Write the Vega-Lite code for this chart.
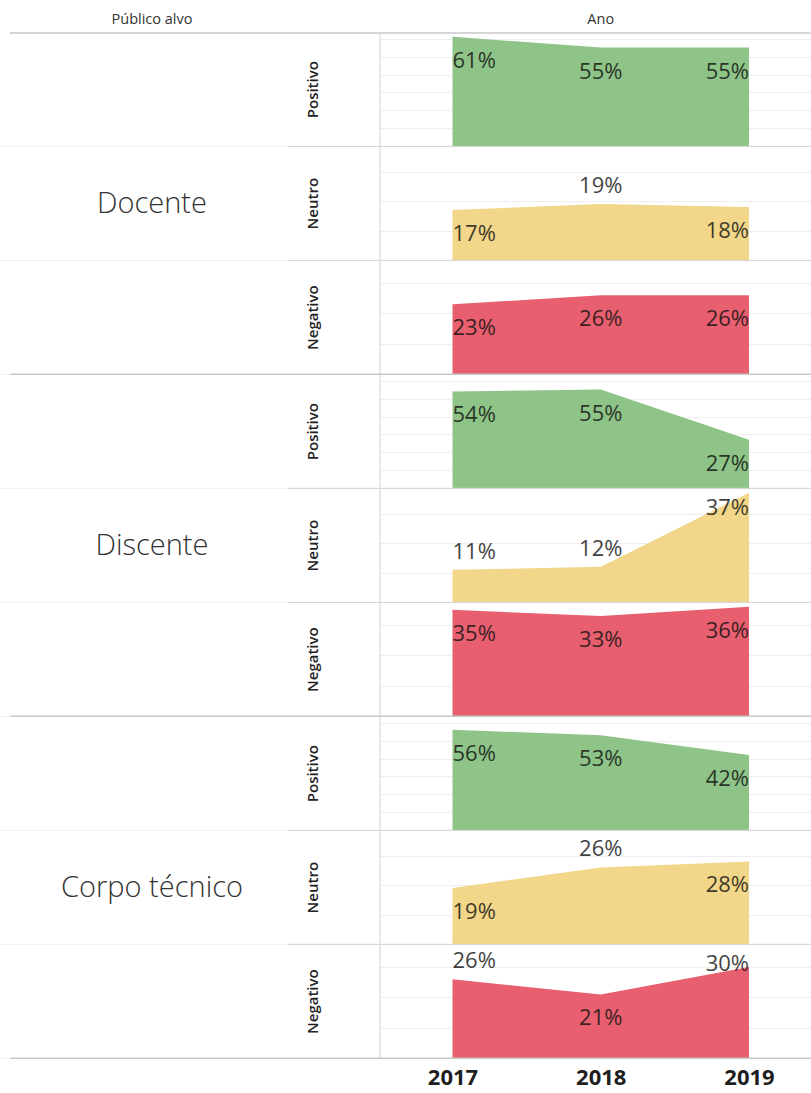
{
  "$schema": "https://vega.github.io/schema/vega-lite/v6.json",
  "padding": {"top": 12, "left": 0, "right": 0, "bottom": 34},
  "background": "white",
  "bounds": "flush",
  "data": {
    "values": [
      {"grupo": "Docente", "sentimento": "Positivo", "ano": 2017, "valor": 0.61},
      {"grupo": "Docente", "sentimento": "Positivo", "ano": 2018, "valor": 0.55},
      {"grupo": "Docente", "sentimento": "Positivo", "ano": 2019, "valor": 0.55},
      {"grupo": "Docente", "sentimento": "Neutro", "ano": 2017, "valor": 0.17},
      {"grupo": "Docente", "sentimento": "Neutro", "ano": 2018, "valor": 0.19},
      {"grupo": "Docente", "sentimento": "Neutro", "ano": 2019, "valor": 0.18},
      {"grupo": "Docente", "sentimento": "Negativo", "ano": 2017, "valor": 0.23},
      {"grupo": "Docente", "sentimento": "Negativo", "ano": 2018, "valor": 0.26},
      {"grupo": "Docente", "sentimento": "Negativo", "ano": 2019, "valor": 0.26},
      {"grupo": "Discente", "sentimento": "Positivo", "ano": 2017, "valor": 0.54},
      {"grupo": "Discente", "sentimento": "Positivo", "ano": 2018, "valor": 0.55},
      {"grupo": "Discente", "sentimento": "Positivo", "ano": 2019, "valor": 0.27},
      {"grupo": "Discente", "sentimento": "Neutro", "ano": 2017, "valor": 0.11},
      {"grupo": "Discente", "sentimento": "Neutro", "ano": 2018, "valor": 0.12},
      {"grupo": "Discente", "sentimento": "Neutro", "ano": 2019, "valor": 0.37},
      {"grupo": "Discente", "sentimento": "Negativo", "ano": 2017, "valor": 0.35},
      {"grupo": "Discente", "sentimento": "Negativo", "ano": 2018, "valor": 0.33},
      {"grupo": "Discente", "sentimento": "Negativo", "ano": 2019, "valor": 0.36},
      {"grupo": "Corpo técnico", "sentimento": "Positivo", "ano": 2017, "valor": 0.56},
      {"grupo": "Corpo técnico", "sentimento": "Positivo", "ano": 2018, "valor": 0.53},
      {"grupo": "Corpo técnico", "sentimento": "Positivo", "ano": 2019, "valor": 0.42},
      {"grupo": "Corpo técnico", "sentimento": "Neutro", "ano": 2017, "valor": 0.19},
      {"grupo": "Corpo técnico", "sentimento": "Neutro", "ano": 2018, "valor": 0.26},
      {"grupo": "Corpo técnico", "sentimento": "Neutro", "ano": 2019, "valor": 0.28},
      {"grupo": "Corpo técnico", "sentimento": "Negativo", "ano": 2017, "valor": 0.26},
      {"grupo": "Corpo técnico", "sentimento": "Negativo", "ano": 2018, "valor": 0.21},
      {"grupo": "Corpo técnico", "sentimento": "Negativo", "ano": 2019, "valor": 0.30}
    ]
  },
  "transform": [
    {"joinaggregate": [{"op": "max", "field": "valor", "as": "maxSent"}], "groupby": ["sentimento"]},
    {"calculate": "datum.maxSent * 1.035", "as": "teto"},
    {"calculate": "datum.grupo + '|' + datum.sentimento", "as": "chave"},
    {"calculate": "(datum.sentimento == 'Neutro' && ((datum.ano == 2018 && datum.grupo != 'Discente') || (datum.grupo == 'Discente' && datum.ano < 2019))) || (datum.grupo == 'Corpo técnico' && datum.sentimento == 'Negativo' && datum.ano == 2017) ? 'acima' : (datum.grupo == 'Discente' && datum.sentimento == 'Neutro' && datum.ano == 2019) ? 'topo' : (datum.grupo == 'Corpo técnico' && datum.sentimento == 'Negativo' && datum.ano == 2019) ? 'linha' : 'abaixo'", "as": "pos"}
  ],
  "spacing": {"row": 0},
  "facet": {
    "row": {
      "field": "chave",
      "type": "nominal",
      "title": null,
      "header": {"labels": false},
      "sort": ["Docente|Positivo", "Docente|Neutro", "Docente|Negativo", "Discente|Positivo", "Discente|Neutro", "Discente|Negativo", "Corpo técnico|Positivo", "Corpo técnico|Neutro", "Corpo técnico|Negativo"]
    }
  },
  "resolve": {"scale": {"y": "independent"}, "axis": {"y": "independent"}},
  "spec": {
    "width": 811,
    "height": 113.33,
    "layer": [
      {
        "mark": {"type": "area", "opacity": 1},
        "encoding": {
          "x": {
            "field": "ano",
            "type": "quantitative",
            "scale": {"domain": [2013.9477, 2019.4182], "nice": false, "zero": false},
            "axis": {"values": [2017, 2018, 2019], "format": "d", "labelFontSize": 22, "labelFontWeight": "bold", "labelFont": "Open Sans", "labelColor": "#1e1e1e", "domain": false, "ticks": false, "grid": false, "title": null, "labelPadding": 8}
          },
          "y": {"field": "valor", "type": "quantitative", "stack": null, "scale": {"zero": true, "nice": false}, "axis": {"labels": false, "ticks": false, "domain": false, "title": null, "grid": true, "gridColor": "#eeeeee", "tickCount": 5}},
          "color": {
            "field": "sentimento",
            "type": "nominal",
            "scale": {"domain": ["Positivo", "Neutro", "Negativo"], "range": ["#8ec487", "#f2d78a", "#e8606f"]},
            "legend": null
          }
        }
      },
      {
        "mark": {"type": "point", "opacity": 0},
        "encoding": {
          "x": {"field": "ano", "type": "quantitative"},
          "y": {"field": "teto", "type": "quantitative"}
        }
      },
      {
        "transform": [{"filter": "datum.ano == 2017"}],
        "mark": {"type": "rect", "color": "white"},
        "encoding": {
          "x": {"datum": 2013.9477, "type": "quantitative"},
          "x2": {"datum": 2016.511}
        }
      },
      {
        "mark": {
          "type": "text",
          "baseline": "middle",
          "font": "Open Sans",
          "fontSize": 22,
          "color": "#111111",
          "opacity": 0.8,
          "align": {"expr": "datum.ano == 2017 ? 'left' : datum.ano == 2019 ? 'right' : 'center'"},
          "dy": {"expr": "datum.pos == 'acima' ? -18 : datum.pos == 'topo' ? 15 : datum.pos == 'linha' ? -3 : 24"}
        },
        "encoding": {
          "x": {"field": "ano", "type": "quantitative"},
          "y": {"field": "valor", "type": "quantitative"},
          "text": {"field": "valor", "type": "quantitative", "format": ".0%"}
        }
      },
      {
        "transform": [{"filter": "datum.ano == 2017"}],
        "mark": {"type": "rule", "color": "#d0d0d0", "strokeWidth": 1},
        "encoding": {"x": {"datum": 2016.511, "type": "quantitative"}}
      },
      {
        "transform": [{"filter": "datum.ano == 2017 && datum.sentimento != 'Negativo'"}],
        "mark": {"type": "rule", "color": "#d3d3d3", "strokeWidth": 1},
        "encoding": {
          "x": {"datum": 2015.8904, "type": "quantitative"},
          "x2": {"datum": 2019.4182},
          "y": {"datum": 0, "type": "quantitative"}
        }
      },
      {
        "transform": [{"filter": "datum.ano == 2017 && datum.sentimento == 'Negativo'"}],
        "mark": {"type": "rule", "color": "#c8c8c8", "strokeWidth": 1.5},
        "encoding": {
          "x": {"datum": 2014.0152, "type": "quantitative"},
          "x2": {"datum": 2019.4182},
          "y": {"datum": 0, "type": "quantitative"}
        }
      },
      {
        "transform": [{"filter": "datum.ano == 2017 && datum.chave == 'Docente|Positivo'"}],
        "mark": {"type": "rule", "color": "#c8c8c8", "strokeWidth": 1.5},
        "encoding": {
          "x": {"datum": 2014.0152, "type": "quantitative"},
          "x2": {"datum": 2019.4182},
          "y": {"field": "teto", "type": "quantitative"}
        }
      },
      {
        "transform": [{"filter": "datum.ano == 2017 && datum.chave == 'Docente|Positivo'"}],
        "mark": {"type": "text", "baseline": "middle", "align": "center", "dy": -13, "font": "Open Sans", "fontSize": 14.5, "color": "#333333"},
        "encoding": {
          "x": {"datum": 2014.973, "type": "quantitative"},
          "y": {"field": "teto", "type": "quantitative"},
          "text": {"value": "Público alvo"}
        }
      },
      {
        "transform": [{"filter": "datum.ano == 2017 && datum.chave == 'Docente|Positivo'"}],
        "mark": {"type": "text", "baseline": "middle", "align": "center", "dy": -13, "font": "Open Sans", "fontSize": 14.5, "color": "#333333"},
        "encoding": {
          "x": {"datum": 2018, "type": "quantitative"},
          "y": {"field": "teto", "type": "quantitative"},
          "text": {"value": "Ano"}
        }
      },
      {
        "transform": [{"filter": "datum.ano == 2017"}],
        "mark": {"type": "text", "angle": 270, "baseline": "middle", "align": "center", "font": "Open Sans", "fontSize": 15, "fontWeight": 600, "color": "#222222"},
        "encoding": {
          "x": {"datum": 2016.059, "type": "quantitative"},
          "text": {"field": "sentimento", "type": "nominal"}
        }
      },
      {
        "transform": [{"filter": "datum.ano == 2017 && datum.sentimento == 'Neutro'"}],
        "mark": {"type": "text", "baseline": "middle", "align": "center", "font": "Open Sans", "fontSize": 29, "fontWeight": 300, "color": "#333333"},
        "encoding": {
          "x": {"datum": 2014.973, "type": "quantitative"},
          "text": {"field": "grupo", "type": "nominal"}
        }
      }
    ]
  },
  "config": {
    "view": {"stroke": null},
    "facet": {"spacing": 0}
  }
}
